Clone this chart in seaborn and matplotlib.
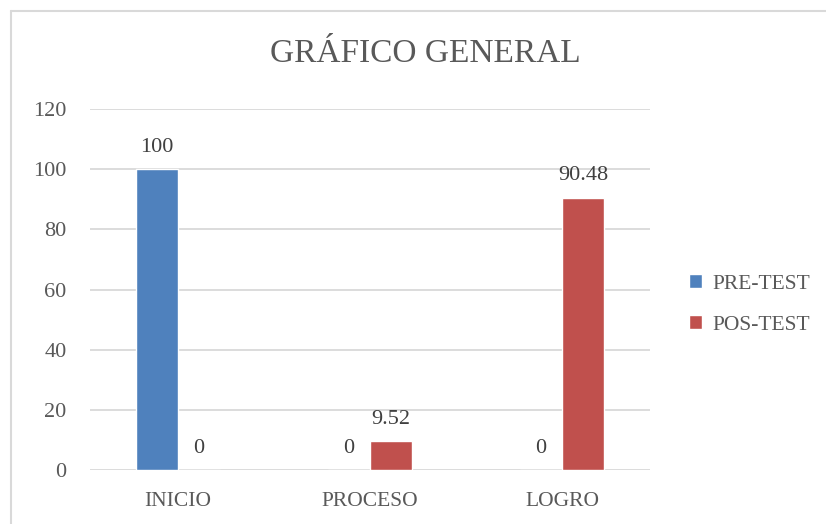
import matplotlib
matplotlib.use('Agg')
import matplotlib.pyplot as plt
import pandas as pd
import seaborn as sns
from matplotlib.lines import Line2D

categories = ['INICIO', 'PROCESO', 'LOGRO']
pre_test = [100, 0, 0]
pos_test = [0, 9.52, 90.48]
series = ['PRE-TEST', 'POS-TEST']
colors = ['#4F81BD', '#C0504D']
y_ticks = [0, 20, 40, 60, 80, 100, 120]

df = pd.DataFrame({
    'cat': categories * 2,
    'serie': [series[0]] * 3 + [series[1]] * 3,
    'valor': pre_test + pos_test,
})

sns.set_style('white')
plt.rcParams['font.family'] = ['Liberation Serif', 'DejaVu Serif']
txt = '#595959'

fig = plt.figure(figsize=(8.26, 5.24), dpi=100)
ax = fig.add_axes([0.109, 0.103, 0.678, 0.689])

sns.barplot(data=df, x='cat', y='valor', hue='serie', palette=colors,
            width=0.44, saturation=1, ax=ax, legend=True)

for c in ax.containers:
    ax.bar_label(c, fmt='%g', padding=9, fontsize=16, color='#404040')

ax.set_ylim(0, 120)
ax.set_yticks(y_ticks)
ax.set_xlim(-0.458, 2.458)
ax.set_xlabel('')
ax.set_ylabel('')
ax.yaxis.grid(True, color='#D9D9D9', linewidth=1.3)
ax.set_axisbelow(True)
sns.despine(ax=ax, left=True, bottom=True)
ax.tick_params(axis='y', length=0, labelsize=16, labelcolor=txt, pad=17)
ax.tick_params(axis='x', length=0, labelsize=15.5, labelcolor=txt, pad=16)

ax.legend(loc='center left', bbox_to_anchor=(1.035, 0.458), frameon=False,
          fontsize=15.5, labelcolor=txt, handlelength=0.62, handleheight=0.62,
          handletextpad=0.45, labelspacing=1.0)

fig.text(0.515, 0.898, 'GRÁFICO GENERAL', ha='center', va='center',
         fontsize=24, color=txt)

# chart border (top and left visible)
fig.add_artist(Line2D([11 / 826, 1], [1 - 11 / 524, 1 - 11 / 524],
                      color='#D9D9D9', linewidth=1.5, transform=fig.transFigure))
fig.add_artist(Line2D([11 / 826, 11 / 826], [0, 1 - 11 / 524],
                      color='#D9D9D9', linewidth=1.5, transform=fig.transFigure))

fig.savefig('out.png', dpi=100)
